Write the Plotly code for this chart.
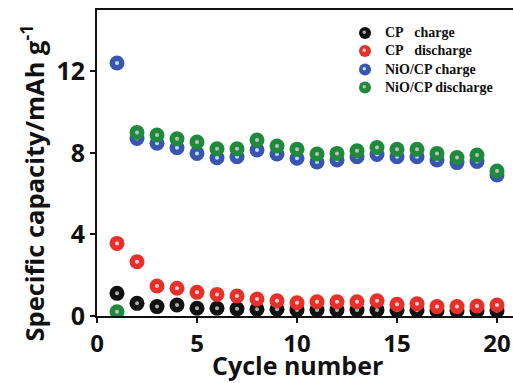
import plotly.graph_objects as go

cycles = list(range(1, 21))
cp_charge = [1.11, 0.62, 0.46, 0.54, 0.38, 0.38, 0.35, 0.33, 0.33, 0.30,
             0.30, 0.30, 0.30, 0.30, 0.28, 0.28, 0.26, 0.26, 0.26, 0.26]
cp_discharge = [3.56, 2.66, 1.47, 1.36, 1.16, 1.06, 0.98, 0.83, 0.75, 0.65,
                0.70, 0.70, 0.70, 0.75, 0.57, 0.60, 0.46, 0.46, 0.49, 0.54]
nio_charge = [12.4, 8.7, 8.47, 8.25, 7.97, 7.76, 7.81, 8.14, 7.94, 7.73,
              7.55, 7.65, 7.81, 7.92, 7.81, 7.81, 7.65, 7.52, 7.57, 6.91]
nio_discharge = [0.21, 9.0, 8.87, 8.69, 8.53, 8.2, 8.2, 8.63, 8.33, 8.18,
                 7.94, 7.97, 8.1, 8.26, 8.17, 8.17, 7.97, 7.77, 7.89, 7.11]

names = ["CP\u00a0\u00a0\u00a0charge", "CP\u00a0\u00a0\u00a0discharge",
         "NiO/CP charge", "NiO/CP discharge"]
colors = ["#111111", "#e8302a", "#3a55b0", "#1f8a3c"]
highlights = ["#b0b0b0", "#f9d0d0", "#b4e2f7", "#c0c0c0"]
series = [cp_charge, cp_discharge, nio_charge, nio_discharge]

# plot area geometry (for placing legend items in paper coords)
L, T, PW, PH = 97, 10, 416, 306

fig = go.Figure()
for name, vals, c, h in zip(names, series, colors, highlights):
    fig.add_trace(go.Scatter(
        x=cycles, y=vals, mode="markers", name=name, showlegend=False,
        marker=dict(size=15, color=c, line=dict(width=0)),
    ))
    fig.add_trace(go.Scatter(
        x=cycles, y=vals, mode="markers", showlegend=False, hoverinfo="skip",
        marker=dict(size=4, color=h, line=dict(width=0)),
    ))

shapes = []
annotations = []
leg_px_y = [33, 51, 69.5, 87.5]
for name, c, h, py in zip(names, colors, highlights, leg_px_y):
    xp = (365 - L) / PW
    yp = (T + PH - py) / PH
    shapes.append(dict(type="circle", xref="paper", yref="paper",
                       xsizemode="pixel", ysizemode="pixel",
                       xanchor=xp, yanchor=yp, x0=-6, x1=6, y0=-6, y1=6,
                       fillcolor=c, line=dict(width=0)))
    shapes.append(dict(type="circle", xref="paper", yref="paper",
                       xsizemode="pixel", ysizemode="pixel",
                       xanchor=xp, yanchor=yp, x0=-2.5, x1=1, y0=-1, y1=2.5,
                       fillcolor=h, line=dict(width=0)))
    annotations.append(dict(text=name, xref="paper", yref="paper",
                            x=(383 - L) / PW, y=yp, xanchor="left", yanchor="middle",
                            showarrow=False,
                            font=dict(family="Liberation Serif", size=14,
                                      color="#111111", weight="bold")))

tickfont = dict(family="Open Sans", size=25, color="#111111", weight="bold")
xtickfont = dict(family="Open Sans", size=24, color="#111111", weight="bold")
annotations += [
    dict(text="Cycle number", xref="paper", yref="paper",
         x=0.483, y=-(383 - T - PH) / PH, xanchor="center", yanchor="bottom",
         showarrow=False, borderpad=0, font=tickfont),
    dict(text="Specific capacity/mAh g<sup>-1</sup>", xref="paper", yref="paper",
         x=-0.154, y=0.436, xanchor="center", yanchor="middle", textangle=-90,
         showarrow=False,
         font=dict(family="Open Sans", size=25.5, color="#111111", weight="bold")),
]

fig.update_layout(
    width=513, height=383,
    margin=dict(l=L, r=0, t=T, b=383 - T - PH),
    plot_bgcolor="white", paper_bgcolor="white",
    showlegend=False,
    xaxis=dict(range=[0, 20.8], tickvals=[0, 5, 10, 15, 20],
               ticks="outside", ticklen=5, tickwidth=2, tickcolor="#111111",
               showline=True, linewidth=2, linecolor="#111111", mirror=True,
               showgrid=False, zeroline=False, tickfont=xtickfont),
    yaxis=dict(range=[0, 15], tickvals=[0, 4, 8, 12],
               ticks="outside", ticklen=5, tickwidth=2, tickcolor="#111111",
               showline=True, linewidth=2, linecolor="#111111",
               showgrid=False, zeroline=False, tickfont=tickfont),
    shapes=shapes,
    annotations=annotations,
)
fig.write_html("out.html")
